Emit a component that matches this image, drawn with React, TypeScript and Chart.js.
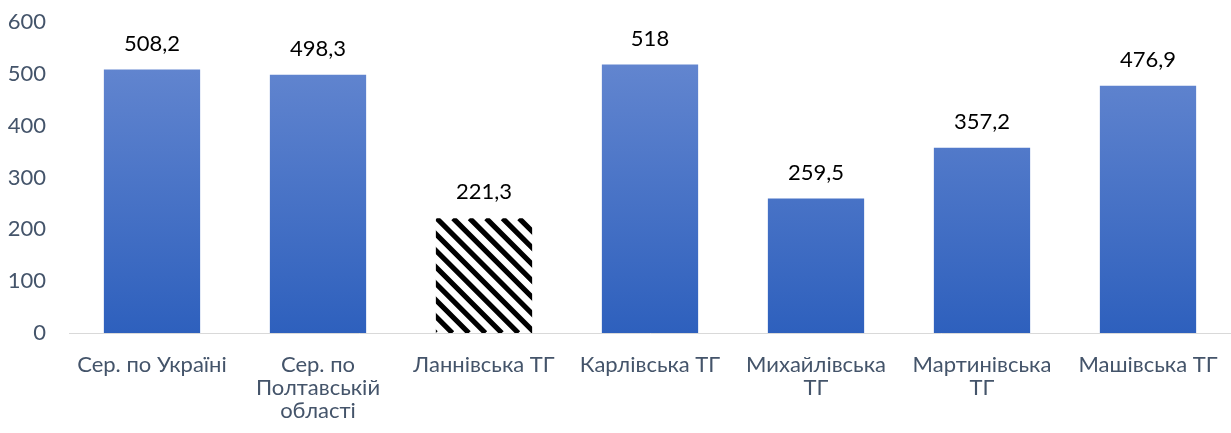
import React, { useEffect, useRef } from "react";
import { Chart, registerables } from "chart.js";

Chart.register(...registerables);

const categories: (string | string[])[] = [
  "Сер. по Україні",
  ["Сер. по", "Полтавській", "області"],
  "Ланнівська ТГ",
  "Карлівська ТГ",
  ["Михайлівська", "ТГ"],
  ["Мартинівська", "ТГ"],
  "Машівська ТГ",
];
const values: number[] = [508.2, 498.3, 221.3, 518, 259.5, 357.2, 476.9];
const valueLabels: string[] = ["508,2", "498,3", "221,3", "518", "259,5", "357,2", "476,9"];
const hatchedIndex = 2;

const FONT = "Lato, 'Open Sans', sans-serif";
const AXIS_TEXT = "#44546a";

const hatchPlugin = {
  id: "hatch",
  afterDatasetsDraw(chart: any) {
    const ctx = chart.ctx;
    const el: any = chart.getDatasetMeta(0).data[hatchedIndex];
    if (!el) return;
    const left = el.x - el.width / 2;
    const right = el.x + el.width / 2;
    const top = el.y;
    const bottom = el.base;
    ctx.save();
    ctx.beginPath();
    ctx.rect(left, top, right - left, bottom - top);
    ctx.clip();
    ctx.fillStyle = "#fff";
    ctx.fillRect(left, top, right - left, bottom - top);
    ctx.strokeStyle = "#000";
    ctx.lineWidth = 5.2;
    const h = bottom - top;
    const period = 16.5;
    ctx.beginPath();
    for (let x = left - h - period; x < right + period; x += period) {
      ctx.moveTo(x, top);
      ctx.lineTo(x + h, bottom);
    }
    ctx.stroke();
    ctx.restore();
  },
};

const valueLabelPlugin = {
  id: "valueLabels",
  afterDatasetsDraw(chart: any) {
    const ctx = chart.ctx;
    const meta = chart.getDatasetMeta(0);
    ctx.save();
    ctx.fillStyle = "#000";
    ctx.font = `22px ${FONT}`;
    ctx.textAlign = "center";
    ctx.textBaseline = "middle";
    meta.data.forEach((el: any, i: number) => {
      ctx.fillText(valueLabels[i], el.x, el.y - 26);
    });
    ctx.restore();
  },
};

export default function App() {
  const ref = useRef<HTMLCanvasElement>(null);
  useEffect(() => {
    if (!ref.current) return;
    const chart = new Chart(ref.current, {
      type: "bar",
      data: {
        labels: categories,
        datasets: [
          {
            data: values,
            backgroundColor: (c: any) => {
              if (c.dataIndex === hatchedIndex) return "#ffffff";
              const area = c.chart.chartArea;
              if (!area) return "#4472c4";
              const g = c.chart.ctx.createLinearGradient(0, area.top, 0, area.bottom);
              g.addColorStop(0, "#6a8bd2");
              g.addColorStop(1, "#2e60bd");
              return g;
            },
            borderWidth: 0,
            categoryPercentage: 1,
            barPercentage: 0.58,
          },
        ],
      },
      options: {
        animation: false,
        responsive: true,
        maintainAspectRatio: false,
        layout: { padding: { top: 0, right: 0, left: 0, bottom: 0 } },
        plugins: {
          legend: { display: false },
          tooltip: { enabled: false },
        },
        scales: {
          x: {
            grid: { display: false },
            border: { display: true, color: "#d9d9d9", width: 1 },
            ticks: {
              color: AXIS_TEXT,
              font: { family: FONT, size: 22, lineHeight: 1.05 },
              padding: 12,
              maxRotation: 0,
              autoSkip: false,
            },
            afterFit: (s: any) => {
              s.height = 100;
              s.paddingTop = 0;
            },
          },
          y: {
            min: 0,
            max: 600,
            grid: { display: false },
            border: { display: false },
            ticks: {
              stepSize: 100,
              color: AXIS_TEXT,
              font: { family: FONT, size: 22 },
              padding: 15,
            },
            afterFit: (s: any) => {
              s.width = 69;
              s.paddingTop = 22;
              s.paddingBottom = 0;
            },
          },
        },
      },
      plugins: [hatchPlugin, valueLabelPlugin],
    });
    return () => chart.destroy();
  }, []);
  return (
    <div style={{ position: "absolute", left: 0, top: 0, width: 1231, height: 433 }}>
      <canvas ref={ref} />
    </div>
  );
}
